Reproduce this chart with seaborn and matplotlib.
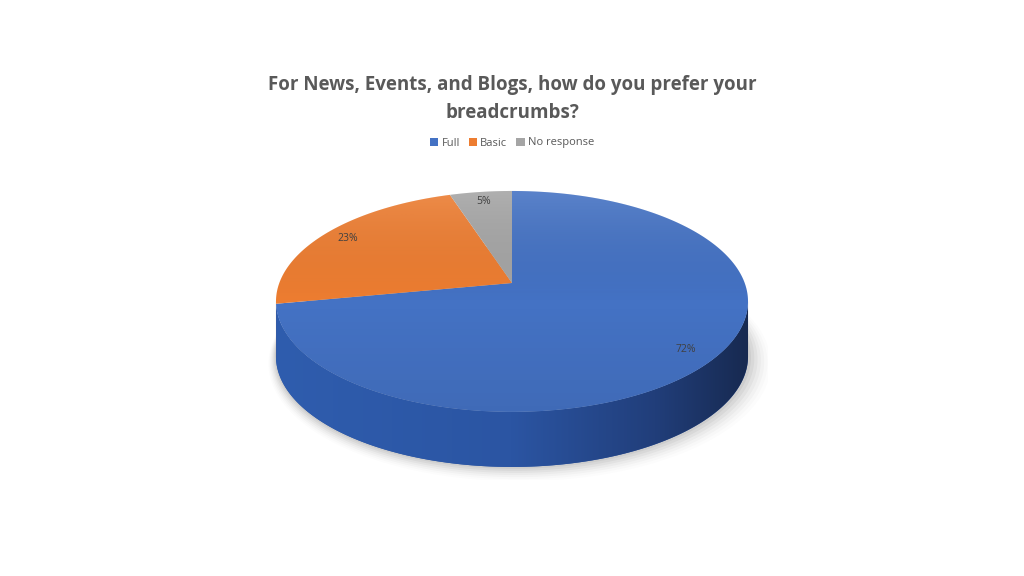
import numpy as np
import matplotlib
matplotlib.use("Agg")
import matplotlib.pyplot as plt
import seaborn as sns
from matplotlib.patches import Patch, Polygon
from matplotlib.colors import LinearSegmentedColormap
from matplotlib.transforms import Transform
from matplotlib.path import Path

# data
categories = ["Full", "Basic", "No response"]
shares = [72, 23, 5]
chart_title = "For News, Events, and Blogs, how do you prefer your\nbreadcrumbs?"

sns.set_theme(style="white")
plt.rcParams['font.family'] = ['Open Sans', 'DejaVu Sans']

top_colors = ["#4472C4", "#ED7D31", "#A5A5A5"]
# side shading, left -> right
side_colors = [
    ["#2F5DAE", "#2B55A3", "#213E7A", "#17294F"],
    ["#C8641F", "#B85A1A", "#8E4413", "#6A320D"],
    ["#8C8C8C", "#808080", "#606060", "#454545"],
]
text_grey = "#595959"
depth = 55          # thickness of the disc (screen units)
tilt_a = 0.167      # perspective strength
tilt_b = 107.4      # vertical squash
tilt_sx = 232.7     # horizontal scale


class Perspective(Transform):
    """Tilted-disc perspective: unit pie coords -> screen-like units."""
    input_dims = output_dims = 2

    def __init__(self, a, b, sx):
        super().__init__()
        self.a, self.b, self.sx = a, b, sx

    def transform_non_affine(self, values):
        v = np.asarray(values, float).reshape(-1, 2)
        s = 1.0 / (1.0 + self.a * v[:, 1])
        return np.column_stack([self.sx * v[:, 0] * s, self.b * v[:, 1] * s])

    def transform_path_non_affine(self, path):
        pts = [seg(np.linspace(0, 1, 40)) for seg, code in path.iter_bezier()]
        return Path(self.transform_non_affine(np.vstack(pts)))


persp = Perspective(tilt_a, tilt_b, tilt_sx)

fig = plt.figure(figsize=(10.24, 5.76), dpi=100)
ax = fig.add_axes([0.25, 96 / 576, 0.5, 300 / 576])

wedges, texts, autotexts = ax.pie(
    shares, colors=top_colors, startangle=90, counterclock=False,
    autopct=lambda p: f"{p:.0f}%", pctdistance=0.88,
    wedgeprops=dict(linewidth=0, zorder=3),
    textprops=dict(fontsize=7.5, color="#404040", zorder=6),
)
ax.set_aspect("auto")
for w in wedges:
    w.set_transform(persp + ax.transData)
for t in autotexts:
    t.set_transform(persp + ax.transData)

ring = np.linspace(0, 2 * np.pi, 400)
rim = persp.transform_non_affine(np.column_stack([np.cos(ring), np.sin(ring)]))

# soft shadow under the disc
for i, al in enumerate(np.linspace(0.045, 0.01, 7)):
    e = 2 + i * 2.2
    sh = rim * (1 + e / 236) + np.array([e * 0.5, -depth - e * 0.4])
    ax.add_patch(Polygon(sh, closed=True, facecolor="black", alpha=al,
                         linewidth=0, zorder=1))

# visible part of the side wall (between the two silhouette tangents)
sil = np.degrees(np.arcsin(tilt_a))
grad = np.linspace(0, 1, 256).reshape(1, -1)
for w, sc in zip(wedges, side_colors):
    for k in range(-2, 2):
        lo = max(w.theta1, -180 + sil + 360 * k)
        hi = min(w.theta2, -sil + 360 * k)
        if hi <= lo:
            continue
        t = np.radians(np.linspace(lo, hi, 300))
        top = persp.transform_non_affine(np.column_stack([np.cos(t), np.sin(t)]))
        bot = top - np.array([0, depth])
        poly = Polygon(np.vstack([top, bot[::-1]]), closed=True,
                       facecolor=sc[1], edgecolor="none", zorder=2)
        ax.add_patch(poly)
        cmap = LinearSegmentedColormap.from_list(
            "side", list(zip([0, 0.5, 0.8, 1.0], sc)))
        im = ax.imshow(grad, cmap=cmap, extent=(-240, 240, -200, 10),
                       aspect="auto", zorder=2.1, interpolation="bicubic")
        im.set_clip_path(poly)

# light gradient on the top face (lighter at the back)
top_face = Polygon(rim, closed=True, facecolor="none", edgecolor="none")
ax.add_patch(top_face)
shade = np.linspace(1, 0, 256).reshape(-1, 1)
shade_cmap = LinearSegmentedColormap.from_list(
    "shade", [(0, 0, 0, 0.07), (0, 0, 0, 0.0), (1, 1, 1, 0.13)])
im = ax.imshow(shade, cmap=shade_cmap, extent=(-240, 240, -135, 95),
               origin="upper", aspect="auto", zorder=4, vmin=0, vmax=1)
im.set_clip_path(top_face)

ax.set_xlim(-256, 256)
ax.set_ylim(283 - 480, 283 - 180)
ax.axis("off")

fig.text(0.5, 1 - 99 / 576, chart_title, ha="center", va="center",
         fontsize=13.5, fontweight="bold", color=text_grey, linespacing=1.55)

handles = [Patch(facecolor=c, edgecolor="none", label=n)
           for c, n in zip(top_colors, categories)]
fig.legend(handles=handles, loc="center", bbox_to_anchor=(0.5, 1 - 143 / 576),
           ncol=3, frameon=False, fontsize=8, handlelength=0.75, handleheight=0.75,
           columnspacing=0.8, handletextpad=0.3, labelcolor=text_grey)

fig.savefig("out.png", dpi=100, facecolor="white")
